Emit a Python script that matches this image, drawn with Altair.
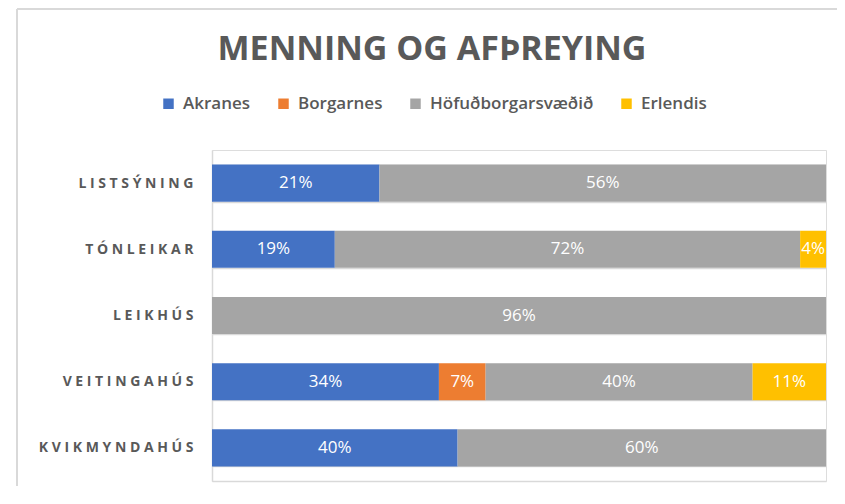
import altair as alt
import pandas as pd

categories = ["LISTSÝNING", "TÓNLEIKAR", "LEIKHÚS", "VEITINGAHÚS", "KVIKMYNDAHÚS"]
regions = ["Akranes", "Borgarnes", "Höfuðborgarsvæðið", "Erlendis"]
akranes = [21, 19, None, 34, 40]
borgarnes = [None, None, None, 7, None]
hofudborg = [56, 72, 96, 40, 60]
erlendis = [None, 4, None, 11, None]
colors = ["#4472C4", "#ED7D31", "#A5A5A5", "#FFC000"]

rows = []
for ri, (reg, vals) in enumerate(zip(regions, [akranes, borgarnes, hofudborg, erlendis])):
    for c, v in zip(categories, vals):
        if v is not None:
            rows.append({"cat": c, "region": reg, "value": v, "ridx": ri})
df = pd.DataFrame(rows)

FONT = "Open Sans"
GRID = "#d9d9d9"
TXT = "#595959"

base = alt.Chart(df).transform_joinaggregate(
    total="sum(value)", groupby=["cat"]
).transform_window(
    cum="sum(value)", groupby=["cat"], sort=[alt.SortField("ridx")], frame=[None, 0]
).transform_calculate(
    start="(datum.cum - datum.value) / datum.total",
    end="datum.cum / datum.total",
    mid="(datum.cum - datum.value / 2) / datum.total",
    label="datum.value + '%'",
)

yenc = alt.Y(
    "cat:N",
    sort=categories,
    title=None,
    scale=alt.Scale(paddingInner=0.44, paddingOuter=0.22),
    axis=alt.Axis(
        domain=True, domainColor=GRID, domainWidth=1.5,
        ticks=False, grid=True, tickBand="extent",
        gridColor=GRID, gridWidth=1.5,
        labelFont=FONT, labelFontSize=14, labelFontWeight="bold",
        labelColor=TXT, labelPadding=19,
        labelExpr="join(split(datum.label, ''), ' ')",
    ),
)

xscale = alt.Scale(domain=[0, 1], nice=False, zero=True)

bars = base.mark_bar().encode(
    x=alt.X("start:Q", scale=xscale,
            axis=alt.Axis(labels=False, ticks=False, grid=False, domain=True,
                          domainColor=GRID, domainWidth=1.5, title=None)),
    x2="end:Q",
    y=yenc,
    color=alt.Color(
        "region:N",
        sort=regions,
        scale=alt.Scale(domain=regions, range=colors),
        legend=alt.Legend(
            title=None, orient="none", direction="horizontal",
            legendX=-52, legendY=-55,
            symbolType="square", symbolSize=110, symbolStrokeWidth=0,
            labelFont=FONT, labelFontSize=17, labelFontWeight=600,
            labelColor=TXT, labelOffset=6, columnPadding=24, labelLimit=0,
        ),
    ),
)

texts = base.mark_text(font=FONT, fontSize=17, color="white").encode(
    x=alt.X("mid:Q", scale=xscale),
    y=alt.Y("cat:N", sort=categories),
    text="label:N",
)

frame_left = alt.Chart(alt.Data(values=[{}])).mark_rule(color=GRID, strokeWidth=2).encode(
    x=alt.value(-195), x2=alt.value(-195), y=alt.value(-141), y2=alt.value(350)
)
frame_top = alt.Chart(alt.Data(values=[{}])).mark_rule(color=GRID, strokeWidth=2).encode(
    x=alt.value(-195), x2=alt.value(640), y=alt.value(-141), y2=alt.value(-141)
)

chart = alt.layer(frame_left, frame_top, bars, texts).properties(
    width=614,
    height=331,
    title=alt.TitleParams(
        "MENNING OG AFÞREYING", font=FONT, fontSize=34, fontWeight="bold",
        color=TXT, anchor="middle", dx=-87, offset=-59,
    ),
    autosize=alt.AutoSizeParams(type="none"),
    padding={"left": 204, "top": 142, "right": 11, "bottom": 5},
).configure_view(stroke=None).configure(background="white")

chart.save("out.html", embed_options={"renderer": "svg", "actions": False})
